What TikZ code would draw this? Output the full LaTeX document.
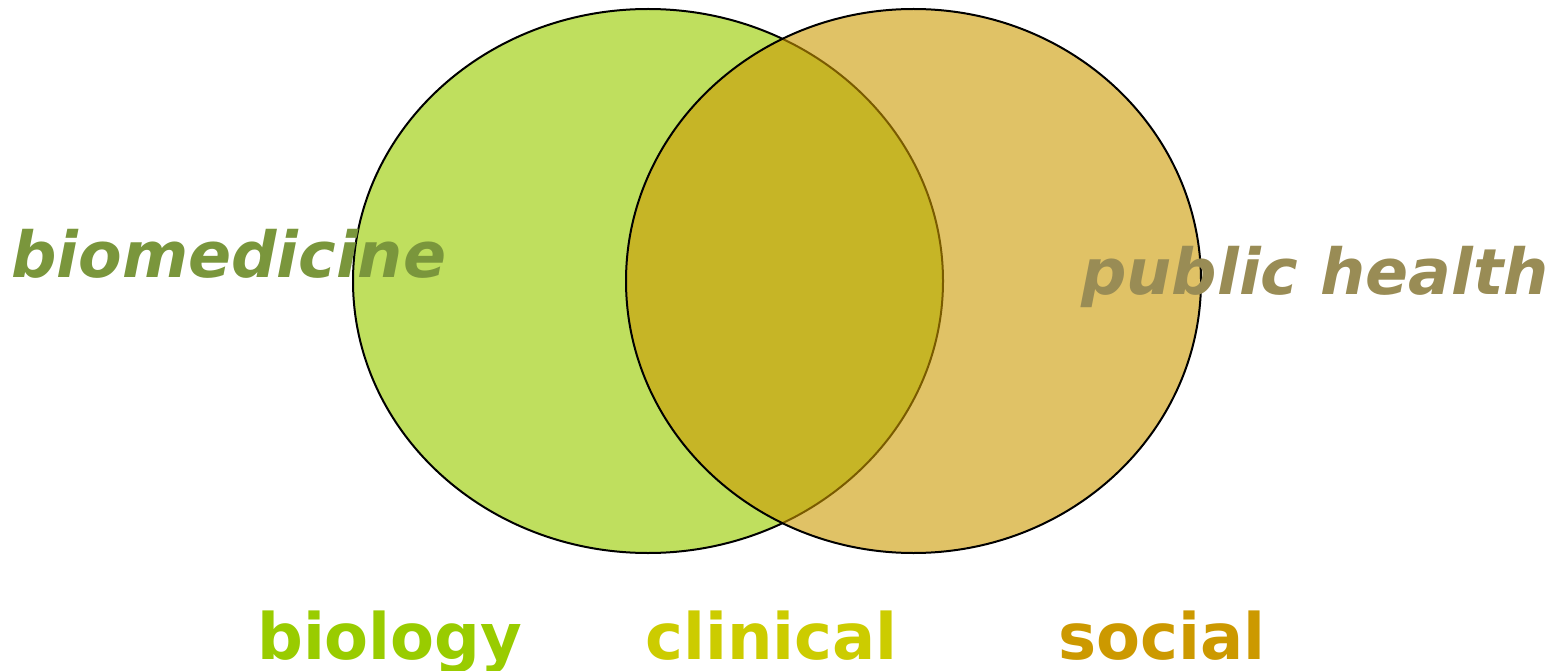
\documentclass[tikz,border=0pt]{standalone}
\usepackage{fontspec}
\setmainfont{DejaVu Sans}
\definecolor{biolg}{HTML}{99CC00}
\definecolor{socl}{HTML}{CC9900}
\definecolor{clin}{HTML}{CCCC00}
\definecolor{biomed}{HTML}{7A963C}
\definecolor{pubh}{HTML}{998C55}
\tikzset{
  setA/.style={draw=black, line width=2pt, fill=biolg, fill opacity=0.63, draw opacity=1},
  setB/.style={draw=black, line width=2pt, fill=socl, fill opacity=0.6, draw opacity=1},
  bigital/.style={anchor=base west, inner sep=0pt, font=\fontsize{63.5}{70}\selectfont\bfseries\itshape},
  bottomlbl/.style={anchor=base west, inner sep=0pt, font=\fontsize{64}{72}\selectfont\bfseries}
}
\begin{document}
\begin{tikzpicture}[x=1pt,y=1pt]
\useasboundingbox (0,0) rectangle (1558,-671);
\draw[setA] (648,-281) ellipse [x radius=295, y radius=272];
\draw[setB] (913.5,-281) ellipse [x radius=287.5, y radius=272];
\node[bigital, text=biomed] (biomed) at (11,-277) {biomedicine};
\node[bigital, text=pubh] (pubhealth) at (1081,-294) {public health};
\node[bottomlbl, text=biolg] (biology) at (257,-659) {biology};
\node[bottomlbl, text=clin] (clinical) at (645,-659) {clinical};
\node[bottomlbl, text=socl] (social) at (1058,-659) {social};
\end{tikzpicture}
\end{document}
